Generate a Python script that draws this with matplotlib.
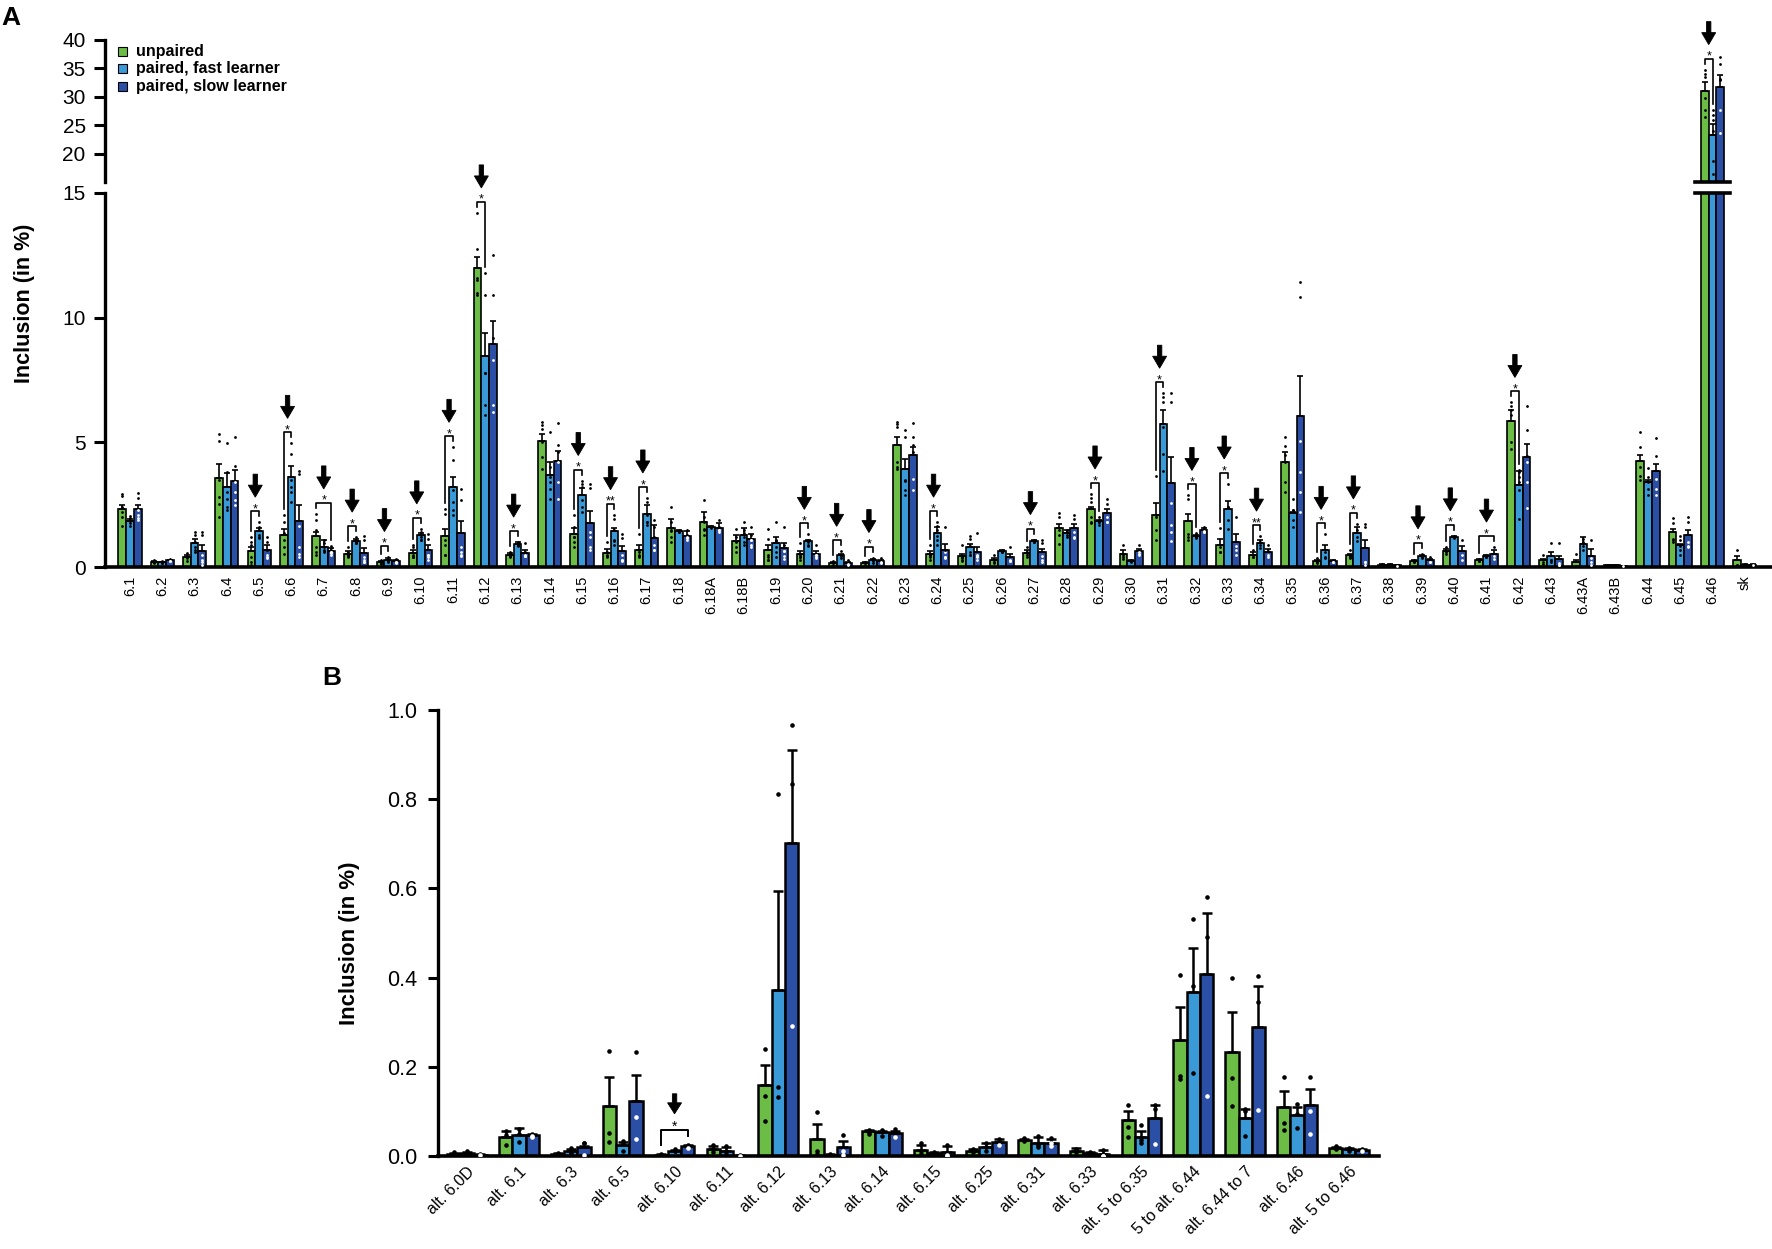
import numpy as np
import matplotlib
matplotlib.use('Agg')
import matplotlib.pyplot as plt
from matplotlib.lines import Line2D
from matplotlib.patches import Polygon, Rectangle

plt.rcParams['font.family'] = ['Liberation Sans', 'DejaVu Sans']

# ---------------- Panel A data ----------------
cats_A = ['6.1', '6.2', '6.3', '6.4', '6.5', '6.6', '6.7', '6.8', '6.9', '6.10', '6.11', '6.12',
          '6.13', '6.14', '6.15', '6.16', '6.17', '6.18', '6.18A', '6.18B', '6.19', '6.20', '6.21',
          '6.22', '6.23', '6.24', '6.25', '6.26', '6.27', '6.28', '6.29', '6.30', '6.31', '6.32',
          '6.33', '6.34', '6.35', '6.36', '6.37', '6.38', '6.39', '6.40', '6.41', '6.42', '6.43',
          '6.43A', '6.43B', '6.44', '6.45', '6.46', 'sk']

mean_unp_A = [2.33, 0.22, 0.40, 3.57, 0.63, 1.27, 1.24, 0.53, 0.20, 0.57, 1.24, 12.0, 0.49, 5.07,
              1.31, 0.57, 0.67, 1.56, 1.80, 1.03, 0.69, 0.51, 0.17, 0.16, 4.89, 0.51, 0.44, 0.29,
              0.57, 1.57, 2.31, 0.53, 2.07, 1.84, 0.89, 0.49, 4.20, 0.24, 0.47, 0.10, 0.24, 0.64,
              0.27, 5.87, 0.27, 0.20, 0.07, 4.27, 1.40, 31.06, 0.29]
mean_fast_A = [1.84, 0.20, 0.96, 3.20, 1.43, 3.63, 0.80, 1.04, 0.30, 1.27, 3.20, 8.48, 0.91, 3.71,
               2.89, 1.43, 2.13, 1.44, 1.60, 1.29, 0.96, 1.03, 0.47, 0.27, 3.93, 1.36, 0.80, 0.64,
               1.04, 1.36, 1.84, 0.24, 5.73, 1.24, 2.31, 0.97, 2.16, 0.67, 1.37, 0.09, 0.44, 1.20,
               0.44, 3.29, 0.44, 0.91, 0.07, 3.40, 0.87, 23.3, 0.10]
mean_slow_A = [2.33, 0.27, 0.63, 3.47, 0.69, 1.83, 0.64, 0.57, 0.23, 0.69, 1.36, 8.94, 0.57, 4.27,
               1.77, 0.64, 1.17, 1.25, 1.57, 1.13, 0.76, 0.53, 0.16, 0.24, 4.51, 0.67, 0.60, 0.40,
               0.60, 1.56, 2.17, 0.63, 3.37, 1.47, 1.00, 0.60, 6.07, 0.24, 0.77, 0.08, 0.27, 0.63,
               0.53, 4.40, 0.33, 0.44, 0.05, 3.84, 1.29, 31.7, 0.10]

sem_unp_A = [0.16, 0.02, 0.08, 0.56, 0.17, 0.26, 0.16, 0.10, 0.04, 0.12, 0.29, 0.43, 0.07, 0.26,
             0.26, 0.16, 0.20, 0.37, 0.40, 0.24, 0.21, 0.13, 0.04, 0.04, 0.34, 0.13, 0.09, 0.07,
             0.12, 0.16, 0.09, 0.14, 0.50, 0.27, 0.22, 0.11, 0.43, 0.04, 0.06, 0.02, 0.04, 0.08,
             0.04, 0.44, 0.05, 0.10, 0.01, 0.24, 0.13, 1.6, 0.15]
sem_fast_A = [0.10, 0.02, 0.17, 0.57, 0.14, 0.44, 0.27, 0.09, 0.05, 0.09, 0.43, 0.90, 0.09, 0.49,
              0.27, 0.14, 0.34, 0.03, 0.03, 0.28, 0.24, 0.07, 0.06, 0.05, 0.40, 0.24, 0.13, 0.05,
              0.04, 0.11, 0.05, 0.03, 0.58, 0.05, 0.32, 0.12, 0.06, 0.22, 0.23, 0.02, 0.06, 0.04,
              0.05, 0.58, 0.16, 0.29, 0.01, 0.10, 0.04, 1.9, 0.02]
sem_slow_A = [0.16, 0.03, 0.24, 0.42, 0.18, 0.64, 0.12, 0.20, 0.04, 0.18, 0.47, 0.92, 0.10, 0.40,
              0.47, 0.20, 0.50, 0.19, 0.19, 0.20, 0.20, 0.11, 0.04, 0.05, 0.32, 0.26, 0.20, 0.13,
              0.13, 0.15, 0.16, 0.08, 1.03, 0.09, 0.31, 0.13, 1.60, 0.04, 0.30, 0.02, 0.04, 0.20,
              0.16, 0.53, 0.11, 0.27, 0.01, 0.29, 0.18, 2.1, 0.02]

dots_unp_A = [
    [2.93, 2.83, 2.4, 2.2, 2.0, 1.65], [0.28, 0.22, 0.18, 0.2], [0.55, 0.45, 0.35, 0.25],
    [5.33, 5.04, 3.5, 2.8, 2.53, 2.0], [1.2, 1.0, 0.87, 0.4, 0.2, 0.1], [2.07, 1.8, 1.07, 0.8, 0.53, 1.35],
    [2.13, 1.87, 1.5, 0.8, 0.6, 0.5], [0.8, 0.6, 0.5, 0.45, 0.4, 0.43], [0.3, 0.2, 0.12, 0.18],
    [0.9, 0.8, 0.5, 0.4, 0.4, 0.42], [2.33, 2.13, 1.1, 0.9, 0.5, 0.5], [14.2, 12.75, 11.6, 10.9, 11.5, 11.0],
    [0.6, 0.55, 0.5, 0.45, 0.4, 0.45], [5.83, 5.69, 5.53, 4.4, 3.93, 5.0], [2.07, 1.6, 1.2, 1.0, 0.8, 1.2],
    [1.0, 0.6, 0.5, 0.45, 0.45, 0.42], [1.33, 0.7, 0.6, 0.5, 0.45, 0.42], [2.4, 1.8, 1.5, 1.2, 1.0, 1.46],
    [2.69, 2.0, 1.8, 1.5, 1.27, 1.54], [1.53, 1.2, 1.0, 0.8, 0.6, 1.05], [1.53, 1.13, 0.5, 0.4, 0.3, 0.3],
    [0.96, 0.5, 0.4, 0.3, 0.4], [0.25, 0.18, 0.1], [0.22, 0.15, 0.1],
    [5.83, 5.73, 5.63, 4.2, 3.93, 4.0], [0.87, 0.5, 0.4, 0.3, 0.48], [0.87, 0.4, 0.3, 0.25, 0.38],
    [0.5, 0.3, 0.2, 0.16], [0.8, 0.6, 0.5, 0.4, 0.55], [2.16, 2.0, 1.27, 0.93, 1.5],
    [2.93, 2.77, 2.6, 2.0, 1.8, 1.76], [0.89, 0.5, 0.4, 0.33], [3.67, 1.47, 1.07, 2.0, 2.1],
    [2.87, 2.73, 1.33, 1.2, 1.1], [1.57, 0.8, 0.6, 0.6], [0.67, 0.5, 0.4, 0.4],
    [5.2, 4.87, 4.5, 4.2, 3.4, 3.0], [0.35, 0.25, 0.15, 0.2], [0.67, 0.4, 0.35, 0.46],
    [0.12, 0.1, 0.08], [0.3, 0.22, 0.2], [0.8, 0.6, 0.52],
    [0.32, 0.25, 0.24], [6.6, 6.47, 6.3, 6.1, 5.0, 4.73], [0.49, 0.2, 0.12],
    [0.51, 0.05, 0.04], [0.09, 0.06, 0.06], [5.4, 4.8, 4.0, 3.67, 3.5],
    [1.97, 1.77, 1.13, 1.0, 1.1], [34.8, 34.1, 33.5, 27.7, 26.5, 29.8], [0.69, 0.1, 0.08]]
dots_fast_A = [
    [2.03, 1.95, 1.85, 1.75, 1.65], [0.25, 0.2, 0.17, 0.18], [1.4, 1.27, 1.0, 0.8, 0.6, 0.7],
    [4.96, 3.8, 3.0, 2.73, 2.4, 2.3], [1.8, 1.6, 1.5, 1.3, 1.2, 1.18], [4.96, 4.53, 3.5, 3.2, 3.0, 2.6],
    [1.1, 0.95, 0.8, 0.7, 0.6, 0.65], [1.2, 1.1, 1.05, 1.0, 0.95, 0.95], [0.42, 0.3, 0.22, 0.26],
    [1.53, 1.4, 1.3, 1.2, 1.1, 1.1], [4.8, 4.29, 3.1, 2.6, 2.3, 2.1], [11.8, 10.9, 7.8, 6.5, 6.1, 7.8],
    [1.0, 0.95, 0.9, 0.9, 0.85, 0.87], [5.4, 4.0, 3.6, 3.13, 2.73, 3.4], [3.47, 3.33, 3.2, 2.7, 2.4, 2.2],
    [2.1, 1.93, 1.5, 1.1, 0.9, 1.05], [2.77, 2.6, 2.1, 1.8, 1.7, 1.8], [1.5, 1.45, 1.4, 1.42],
    [1.65, 1.6, 1.55], [1.8, 1.5, 1.2, 1.0, 0.9, 1.35], [1.8, 1.1, 0.8, 0.6, 0.4, 1.05],
    [1.31, 1.1, 1.0, 0.9, 0.85], [0.63, 0.45, 0.35], [0.38, 0.25, 0.18],
    [5.49, 5.2, 3.07, 2.87, 3.5, 3.45], [1.8, 1.63, 1.47, 1.1, 0.9, 1.26], [1.24, 1.13, 0.6, 0.5, 0.5, 0.83],
    [0.7, 0.65, 0.6, 0.61], [1.1, 1.05, 1.0, 1.0], [1.5, 1.4, 1.3, 1.2, 1.4],
    [2.0, 1.9, 1.8, 1.7, 1.8], [0.3, 0.25, 0.2], [6.97, 6.8, 6.6, 5.6, 4.55, 3.85],
    [1.35, 1.3, 1.2, 1.15, 1.2], [3.33, 2.4, 1.87, 1.53, 2.4], [1.24, 1.0, 0.9, 0.75],
    [2.73, 2.3, 1.87, 1.6, 2.3], [1.31, 0.6, 0.4, 0.37], [1.73, 1.5, 1.2, 1.05],
    [0.11, 0.09, 0.07], [0.53, 0.42, 0.37], [1.25, 1.2, 1.15],
    [0.5, 0.42, 0.4], [3.9, 3.8, 3.6, 3.4, 3.1, 1.94], [0.96, 0.3, 0.2, 0.3],
    [1.11, 1.0, 0.7, 0.83], [0.08, 0.07, 0.06], [3.97, 3.13, 2.87, 3.4, 3.63],
    [1.23, 1.07, 0.7, 0.5, 0.85], [27.7, 26.9, 25.9, 24.0, 18.8, 16.5], [0.12, 0.1, 0.08]]
dots_slow_A = [
    [2.96, 2.77, 2.3, 2.1, 1.9, 1.95], [0.32, 0.27, 0.24, 0.25], [1.4, 1.27, 0.5, 0.3, 0.2, 0.1],
    [5.23, 4.07, 3.0, 2.67, 2.47, 3.4], [1.2, 1.0, 0.7, 0.5, 0.4, 0.35], [3.87, 3.73, 0.8, 0.53, 0.4, 1.65],
    [0.85, 0.75, 0.6, 0.55, 0.5, 0.6], [1.23, 1.07, 0.4, 0.3, 0.2, 0.22], [0.32, 0.22, 0.18, 0.2],
    [1.33, 1.13, 0.5, 0.4, 0.3, 0.48], [3.13, 2.69, 0.8, 0.6, 0.5, 0.45], [12.5, 10.9, 8.3, 6.5, 6.2, 9.2],
    [0.96, 0.6, 0.5, 0.45, 0.45, 0.46], [5.76, 4.6, 4.2, 3.4, 2.73, 4.9], [3.33, 3.17, 1.4, 1.2, 0.8, 0.7],
    [1.31, 1.17, 0.5, 0.3, 0.3, 0.26], [1.9, 1.6, 1.2, 0.9, 0.7, 0.7], [1.47, 1.3, 1.2, 1.1, 1.18],
    [1.87, 1.6, 1.5, 1.4, 1.48], [1.6, 1.3, 1.1, 0.87, 0.8, 1.1], [1.6, 0.9, 0.64, 0.44, 0.33, 0.65],
    [0.87, 0.5, 0.4, 0.35, 0.5], [0.29, 0.12, 0.08], [0.35, 0.22, 0.15],
    [5.77, 5.2, 3.53, 3.07, 4.6, 4.9], [1.6, 0.6, 0.4, 0.35, 0.4, 0.67], [1.36, 0.5, 0.4, 0.3, 0.44],
    [0.8, 0.3, 0.25, 0.25], [1.1, 0.96, 0.3, 0.2, 0.44], [2.1, 1.93, 1.4, 1.2, 1.17],
    [2.73, 2.53, 2.0, 1.8, 1.8], [0.89, 0.6, 0.5, 0.53], [6.97, 6.6, 2.57, 1.69, 1.03, 1.4],
    [1.6, 1.5, 1.45, 1.4, 1.4], [2.0, 0.67, 0.5, 0.83], [0.87, 0.5, 0.4, 0.63],
    [11.45, 10.84, 5.07, 2.2, 3.0, 3.8], [0.3, 0.2, 0.22], [1.73, 1.6, 0.2, 0.1, 0.2],
    [0.1, 0.08, 0.06], [0.4, 0.22, 0.19], [1.09, 0.5, 0.3],
    [0.8, 0.45, 0.34], [6.47, 4.2, 3.4, 2.37, 5.5, 4.46], [0.96, 0.1, 0.1, 0.16],
    [1.09, 0.2, 0.1, 0.37], [0.06, 0.05, 0.04], [5.17, 4.47, 3.53, 3.13, 2.9],
    [2.0, 1.8, 1.0, 0.8, 0.85], [37.0, 35.7, 27.7, 23.7, 33.0, 33.1], [0.12, 0.1, 0.08]]

# significant comparisons (category, compared group, stars); each is marked by an arrow
sig_A = [('6.5', 'fast', '*'), ('6.6', 'fast', '*'), ('6.7', 'slow', '*'), ('6.8', 'fast', '*'),
         ('6.9', 'fast', '*'), ('6.10', 'fast', '*'), ('6.11', 'fast', '*'), ('6.12', 'fast', '*'),
         ('6.13', 'fast', '*'), ('6.15', 'fast', '*'), ('6.16', 'fast', '**'), ('6.17', 'fast', '*'),
         ('6.20', 'fast', '*'), ('6.21', 'fast', '*'), ('6.22', 'fast', '*'), ('6.24', 'fast', '*'),
         ('6.27', 'fast', '*'), ('6.29', 'fast', '*'), ('6.31', 'fast', '*'), ('6.32', 'fast', '*'),
         ('6.33', 'fast', '*'), ('6.34', 'fast', '**'), ('6.36', 'fast', '*'), ('6.37', 'fast', '*'),
         ('6.39', 'fast', '*'), ('6.40', 'fast', '*'), ('6.41', 'slow', '*'), ('6.42', 'fast', '*'),
         ('6.46', 'fast', '*')]

# ---------------- Panel B data ----------------
cats_B = ['alt. 6.0D', 'alt. 6.1', 'alt. 6.3', 'alt. 6.5', 'alt. 6.10', 'alt. 6.11', 'alt. 6.12',
          'alt. 6.13', 'alt. 6.14', 'alt. 6.15', 'alt. 6.25', 'alt. 6.31', 'alt. 6.33',
          'alt. 5 to 6.35', '5 to alt. 6.44', 'alt. 6.44 to 7', 'alt. 6.46', 'alt. 5 to 6.46']
mean_unp_B = [0.005, 0.042, 0.004, 0.112, 0.003, 0.016, 0.158, 0.038, 0.056, 0.014, 0.011, 0.036,
              0.011, 0.081, 0.259, 0.234, 0.109, 0.018]
mean_fast_B = [0.007, 0.047, 0.010, 0.025, 0.012, 0.012, 0.372, 0.003, 0.053, 0.007, 0.020, 0.030,
               0.007, 0.043, 0.367, 0.086, 0.092, 0.015]
mean_slow_B = [0.003, 0.046, 0.020, 0.124, 0.022, 0.001, 0.702, 0.020, 0.052, 0.009, 0.032, 0.030,
               0.005, 0.085, 0.407, 0.289, 0.114, 0.014]
sem_unp_B = [0.002, 0.015, 0.002, 0.066, 0.001, 0.007, 0.045, 0.033, 0.003, 0.010, 0.004, 0.003,
             0.006, 0.019, 0.076, 0.089, 0.036, 0.002]
sem_fast_B = [0.002, 0.015, 0.006, 0.007, 0.002, 0.007, 0.223, 0.001, 0.004, 0.002, 0.008, 0.013,
              0.002, 0.014, 0.100, 0.020, 0.017, 0.002]
sem_slow_B = [0.001, 0.004, 0.003, 0.058, 0.003, 0.001, 0.208, 0.013, 0.004, 0.013, 0.005, 0.007,
              0.008, 0.029, 0.138, 0.091, 0.035, 0.001]
dots_unp_B = [[0.008, 0.005, 0.003], [0.055, 0.047, 0.025], [0.006, 0.004, 0.002],
              [0.235, 0.051, 0.031], [0.004, 0.003, 0.002], [0.025, 0.015, 0.008],
              [0.239, 0.135, 0.078], [0.098, 0.010, 0.005], [0.058, 0.053, 0.050],
              [0.028, 0.010, 0.005], [0.015, 0.010, 0.008], [0.040, 0.035, 0.033],
              [0.015, 0.010, 0.008], [0.114, 0.066, 0.043], [0.405, 0.180, 0.172],
              [0.400, 0.174, 0.113], [0.177, 0.073, 0.058], [0.022, 0.018, 0.015]]
dots_fast_B = [[0.010, 0.007, 0.004], [0.060, 0.050, 0.032], [0.018, 0.008, 0.005],
               [0.033, 0.030, 0.012], [0.015, 0.012, 0.010], [0.022, 0.010, 0.005],
               [0.812, 0.154, 0.133], [0.005, 0.003, 0.001], [0.058, 0.055, 0.045],
               [0.008, 0.006, 0.005], [0.030, 0.020, 0.010], [0.045, 0.025, 0.020],
               [0.008, 0.007, 0.006], [0.070, 0.036, 0.028], [0.532, 0.380, 0.187],
               [0.106, 0.100, 0.045], [0.117, 0.095, 0.062], [0.018, 0.015, 0.012]]
dots_slow_B = [[0.004, 0.003, 0.002], [0.050, 0.045, 0.042], [0.030, 0.028, 0.002],
               [0.233, 0.088, 0.038], [0.025, 0.022, 0.018], [0.002, 0.001, 0.000],
               [0.966, 0.833, 0.291], [0.047, 0.010, 0.002], [0.060, 0.052, 0.042],
               [0.025, 0.002, 0.000], [0.037, 0.032, 0.025], [0.040, 0.028, 0.022],
               [0.013, 0.001, 0.000], [0.114, 0.106, 0.027], [0.581, 0.490, 0.134],
               [0.403, 0.346, 0.104], [0.176, 0.100, 0.049], [0.016, 0.014, 0.012]]
sig_B = [('alt. 6.10', 'slow', '*')]

groups = ['unpaired', 'paired, fast learner', 'paired, slow learner']
colors = {'unp': '#6CBD45', 'fast': '#3A9AD8', 'slow': '#2B4FA4'}

# ---------------- figure ----------------
fig = plt.figure(figsize=(17.72, 12.49), dpi=100)
axA = fig.add_axes([0.0593, 0.546, 0.9407, 0.2995])
axT = fig.add_axes([0.0593, 0.8539, 0.9407, 0.1141])
axB = fig.add_axes([0.2472, 0.0745, 0.531, 0.3571])


def fig_frac(p):
    return fig.transFigure.inverted().transform(np.atleast_2d(p))


def draw_series(ax, x, means, sems, dots, key, w, lw, ms, cap, elw):
    ax.bar(x, means, w, color=colors[key], edgecolor='black', linewidth=lw, zorder=2)
    ax.errorbar(x, means, yerr=[np.zeros(len(sems)), sems], fmt='none', ecolor='black',
                elinewidth=elw, capsize=cap, capthick=elw, zorder=3)
    for xi, m, dl in zip(x, means, dots):
        for d in dl:
            c = 'white' if (key == 'slow' and d < m) else 'black'
            ax.plot(xi, d, 'o', ms=ms, color=c, mec='none', zorder=4)


# Panel A bars
xA = np.arange(len(cats_A))
wA = 0.24
offA = {'unp': -wA, 'fast': 0.0, 'slow': wA}
dataA = {'unp': (mean_unp_A, sem_unp_A, dots_unp_A),
         'fast': (mean_fast_A, sem_fast_A, dots_fast_A),
         'slow': (mean_slow_A, sem_slow_A, dots_slow_A)}
for ax in (axA, axT):
    for key in ('unp', 'fast', 'slow'):
        m, s, d = dataA[key]
        draw_series(ax, xA + offA[key], m, s, d, key, wA, 1.2, 2.0, 2.2, 1.2)
    ax.set_xlim(-0.77, 50.84)
    for sp in ('top', 'right'):
        ax.spines[sp].set_visible(False)
    ax.spines['left'].set_linewidth(2.4)
    ax.tick_params(axis='y', direction='out', length=8, width=2.2, labelsize=15, pad=6)

axA.set_ylim(0, 15)
axA.set_yticks([0, 5, 10, 15])
axA.spines['bottom'].set_linewidth(2.6)
axA.set_xticks(xA)
axA.set_xticklabels(cats_A, rotation=90, fontsize=10.5, va='top', ha='center')
axA.tick_params(axis='x', length=0, pad=6)

axT.set_ylim(15, 40)
axT.set_yticks([20, 25, 30, 35, 40])
axT.spines['bottom'].set_visible(False)
axT.set_xticks([])

# break marks on the 6.46 bars
i46 = cats_A.index('6.46')
for ax in (axA, axT):
    p0 = ax.transData.transform((i46 - 0.55, 15))
    p1 = ax.transData.transform((i46 + 0.55, 15))
    f = fig_frac(np.array([p0, p1]))
    fig.add_artist(Line2D(f[:, 0], f[:, 1], transform=fig.transFigure, color='black', lw=2.6))


def sig_mark(xa, ya, xb, yb, stars, d_top, d_leg, tip_gap, alen, hw, hl, sw, fs, lw):
    h = max(ya, yb) + d_top
    pts = np.array([(xa, ya + d_leg), (xa, h), (xb, h), (xb, yb + d_leg)])
    f = fig_frac(pts)
    fig.add_artist(Line2D(f[:, 0], f[:, 1], transform=fig.transFigure, color='black', lw=lw))
    xc = 0.5 * (xa + xb)
    s = fig_frac((xc, h - 1))[0]
    fig.text(s[0], s[1], stars, ha='center', va='baseline', fontsize=fs)
    tip = h + tip_gap
    poly = np.array([(xc, tip), (xc - hw, tip + hl), (xc - sw, tip + hl), (xc - sw, tip + alen),
                     (xc + sw, tip + alen), (xc + sw, tip + hl), (xc + hw, tip + hl)])
    fig.add_artist(Polygon(fig_frac(poly), closed=True, transform=fig.transFigure,
                           facecolor='black', edgecolor='black', lw=0.6))


def top_px(axes_pick, x, mean, sem, dots):
    t = max([mean + sem] + list(dots))
    ax = axes_pick(t)
    return ax.transData.transform((x, t))


pickA = lambda v: axT if v > 15 else axA
for cat, partner, stars in sig_A:
    i = cats_A.index(cat)
    mu, su, du = dataA['unp']
    mp, spp, dp = dataA[partner]
    pa = top_px(pickA, i + offA['unp'], mu[i], su[i], du[i])
    pb = top_px(pickA, i + offA[partner], mp[i], spp[i], dp[i])
    sig_mark(pa[0], pa[1], pb[0], pb[1], stars, 11, 6, 14, 23, 7.0, 12, 2.2, 9, 1.2)

# Panel B
xB = np.arange(len(cats_B))
wB = 0.255
offB = {'unp': -wB, 'fast': 0.0, 'slow': wB}
dataB = {'unp': (mean_unp_B, sem_unp_B, dots_unp_B),
         'fast': (mean_fast_B, sem_fast_B, dots_fast_B),
         'slow': (mean_slow_B, sem_slow_B, dots_slow_B)}
for key in ('unp', 'fast', 'slow'):
    m, s, d = dataB[key]
    draw_series(axB, xB + offB[key], m, s, d, key, wB, 1.8, 3.3, 3.5, 1.8)
axB.set_xlim(-0.56, 17.58)
axB.set_ylim(0, 1.0)
axB.set_yticks([0.0, 0.2, 0.4, 0.6, 0.8, 1.0])
axB.set_yticklabels(['0.0', '0.2', '0.4', '0.6', '0.8', '1.0'])
for sp in ('top', 'right'):
    axB.spines[sp].set_visible(False)
axB.spines['left'].set_linewidth(2.4)
axB.spines['bottom'].set_linewidth(2.6)
axB.tick_params(axis='y', direction='out', length=7, width=2.2, labelsize=15.5, pad=8)
axB.set_xticks(xB)
axB.set_xticklabels(cats_B, rotation=45, ha='right', va='top', rotation_mode='anchor', fontsize=11.5)
axB.tick_params(axis='x', length=0, pad=6)

pickB = lambda v: axB
for cat, partner, stars in sig_B:
    i = cats_B.index(cat)
    mu, su, du = dataB['unp']
    mp, spp, dp = dataB[partner]
    pa = top_px(pickB, i + offB['unp'], mu[i], su[i], du[i])
    pb = top_px(pickB, i + offB[partner], mp[i], spp[i], dp[i])
    sig_mark(pa[0], pa[1], pb[0], pb[1], stars, 15, 9, 16, 20, 7.0, 11, 2.2, 10, 1.4)

# labels
fig.text(0.0137, 0.757, 'Inclusion (in %)', rotation=90, ha='center', va='center',
         fontsize=15.5, fontweight='bold')
fig.text(0.197, 0.245, 'Inclusion (in %)', rotation=90, ha='center', va='center',
         fontsize=16, fontweight='bold')
fig.text(0.001, 0.995, 'A', ha='left', va='top', fontsize=19, fontweight='bold')
fig.text(0.182, 0.457, 'B', ha='left', va='center', fontsize=19, fontweight='bold')

# legend
leg_y = [0.9584, 0.9448, 0.9311]
for gname, key, yy in zip(groups, ('unp', 'fast', 'slow'), leg_y):
    fig.add_artist(Rectangle((0.0665, yy - 0.0036), 0.0051, 0.0072, transform=fig.transFigure,
                             facecolor=colors[key], edgecolor='black', lw=0.8))
    fig.text(0.0767, yy, gname, ha='left', va='center', fontsize=11.5, fontweight='bold')

fig.savefig('out.png', dpi=100)
